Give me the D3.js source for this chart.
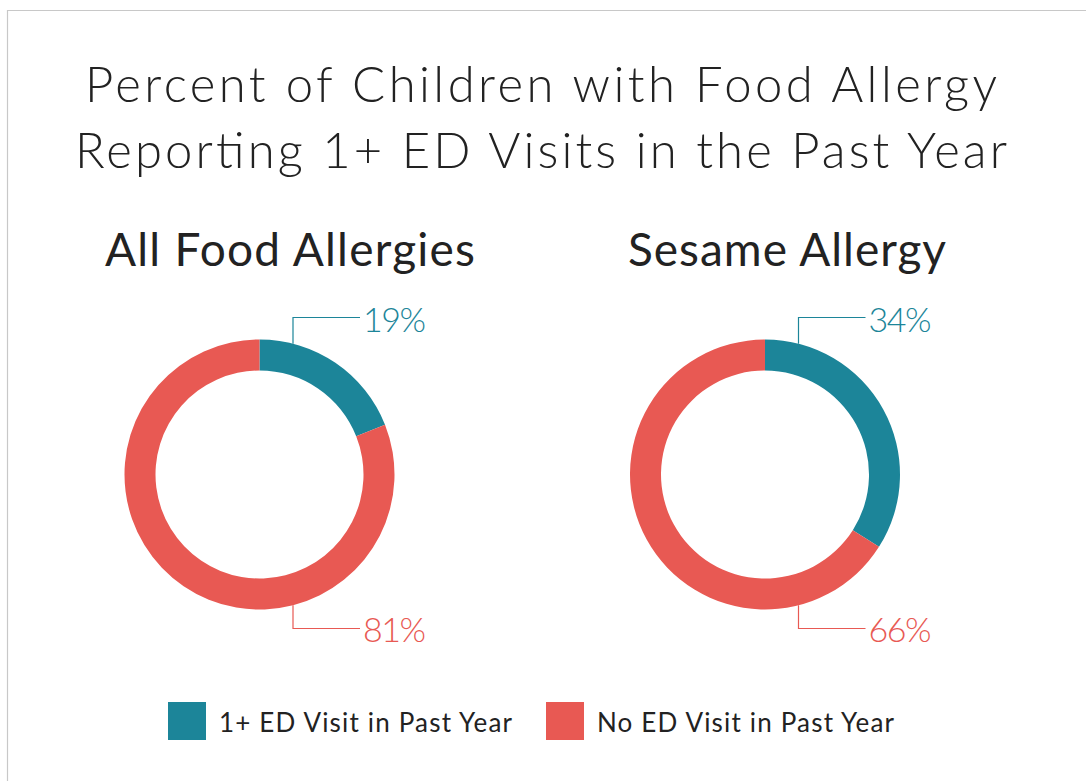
<!DOCTYPE html>
<html>
<head>
<meta charset="utf-8">
<script src="https://cdn.jsdelivr.net/npm/d3@7"></script>
<style>
  body { margin: 0; background: #fff; }
  text { font-family: Lato, "Noto Sans", sans-serif; }
</style>
</head>
<body>
<div id="chart"></div>
<script>
// data
const titleLines = ["Percent of Children with Food Allergy", "Reporting 1+ ED Visits in the Past Year"];
const groups = ["All Food Allergies", "Sesame Allergy"];
const categories = ["1+ ED Visit in Past Year", "No ED Visit in Past Year"];
const edVisit = [19, 34];
const noEdVisit = [81, 66];
const colors = ["#1c8599", "#e85953"];

const W = 1086, H = 781;
const svg = d3.select("#chart").append("svg")
  .attr("width", W).attr("height", H);

// frame
svg.append("path")
  .attr("d", `M7.5,${H} V10.5 H${W}`)
  .attr("fill", "none")
  .attr("stroke", "#c8c8c8")
  .attr("stroke-width", 1.2);

// title (widths stretched to match the wider original face)
const titleW = [912, 932];
svg.append("text")
  .attr("text-anchor", "middle")
  .attr("fill", "#222")
  .style("font-size", "49px")
  .style("font-weight", 300)
  .selectAll("tspan")
  .data(titleLines)
  .join("tspan")
  .attr("x", 541)
  .attr("y", (d, i) => 102 + i * 66)
  .attr("textLength", (d, i) => titleW[i])
  .attr("lengthAdjust", "spacing")
  .text(d => d);

const xScale = d3.scalePoint().domain(groups).range([259.5, 765]);
const cy = 474.5;
const outerR = 135, innerR = 104;

const pie = d3.pie().sort(null).value(d => d.val);
const arc = d3.arc().innerRadius(innerR).outerRadius(outerR);
const color = d3.scaleOrdinal().domain(categories).range(colors);

const headX = [290, 787];
const headW = [370, 318];

groups.forEach((g, gi) => {
  const cx = xScale(g);
  const vals = [
    { cat: categories[0], val: edVisit[gi] },
    { cat: categories[1], val: noEdVisit[gi] }
  ];

  svg.append("text")
    .attr("x", headX[gi])
    .attr("y", 266)
    .attr("text-anchor", "middle")
    .attr("fill", "#222")
    .attr("textLength", headW[gi])
    .attr("lengthAdjust", "spacing")
    .style("font-size", "46px")
    .style("font-weight", 400)
    .text(g);

  const gEl = svg.append("g").attr("transform", `translate(${cx},${cy})`);
  gEl.selectAll("path")
    .data(pie(vals))
    .join("path")
    .attr("d", arc)
    .attr("fill", d => color(d.data.cat));

  // leader lines + labels
  const lx = cx + 33.5;
  const topY = cy - Math.sqrt(outerR * outerR - 33.5 * 33.5);
  const botY = cy + Math.sqrt(outerR * outerR - 33.5 * 33.5);
  const leaders = [
    { y0: topY, y1: 317.5, val: edVisit[gi], cat: categories[0], ty: 332 },
    { y0: botY, y1: 628.5, val: noEdVisit[gi], cat: categories[1], ty: 642 }
  ];
  leaders.forEach(l => {
    svg.append("path")
      .attr("d", `M${lx},${l.y0} V${l.y1} H${lx + 67}`)
      .attr("fill", "none")
      .attr("stroke", color(l.cat))
      .attr("stroke-width", 1.2);
    svg.append("text")
      .attr("x", lx + 70)
      .attr("y", l.ty)
      .attr("fill", color(l.cat))
      .attr("textLength", 63)
      .attr("lengthAdjust", "spacing")
      .style("font-size", "34px")
      .style("font-weight", 300)
      .text(l.val + "%");
  });
});

// legend
const legendX = [168, 546];
const legendW = [293, 297];
const legend = svg.selectAll("g.legend")
  .data(categories)
  .join("g")
  .attr("class", "legend")
  .attr("transform", (d, i) => `translate(${legendX[i]},702)`);
legend.append("rect")
  .attr("width", 38).attr("height", 38)
  .attr("fill", d => color(d));
legend.append("text")
  .attr("x", 51)
  .attr("y", 30)
  .attr("fill", "#222")
  .attr("textLength", (d, i) => legendW[i])
  .attr("lengthAdjust", "spacing")
  .style("font-size", "26px")
  .text(d => d);
</script>
</body>
</html>
